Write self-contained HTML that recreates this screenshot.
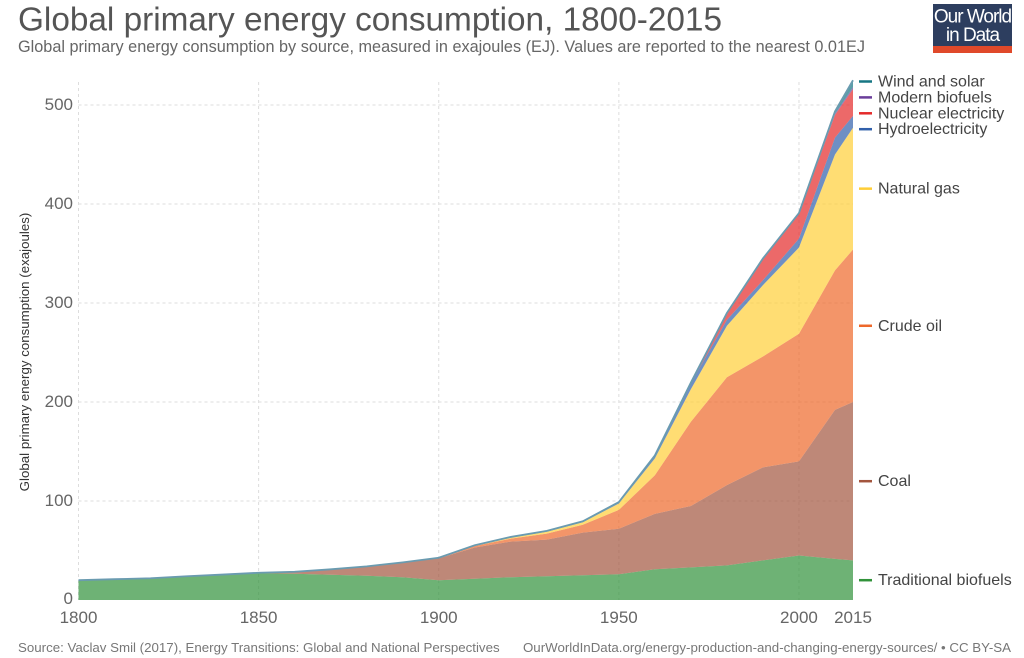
<!DOCTYPE html>
<html lang="en">
<head>
<meta charset="utf-8">
<title>Global primary energy consumption, 1800-2015</title>
<style>
  html,body{margin:0;padding:0;background:#fff;}
  body{width:1024px;height:658px;overflow:hidden;}
  svg{display:block;font-family:"Liberation Sans",sans-serif;}
</style>
</head>
<body>
<svg id="chart" width="1024" height="658" viewBox="0 0 1024 658" xmlns="http://www.w3.org/2000/svg">
  <text x="18" y="30.5" font-size="33.35" fill="#555">Global primary energy consumption, 1800-2015</text>
  <text x="18" y="52" font-size="16.25" fill="#666">Global primary energy consumption by source, measured in exajoules (EJ). Values are reported to the nearest 0.01EJ</text>
  <g>
    <rect x="933" y="4" width="79" height="42" fill="#2d3e5f"/>
    <rect x="933" y="46" width="79" height="7" fill="#e0492a"/>
    <text x="972.5" y="22.5" font-size="19" letter-spacing="-1" text-anchor="middle" fill="#fff">Our World</text>
    <text x="972.5" y="41" font-size="19" letter-spacing="-1" text-anchor="middle" fill="#fff">in Data</text>
  </g>
  <text transform="translate(29,352) rotate(-90)" font-size="13.3" text-anchor="middle" fill="#333">Global primary energy consumption (exajoules)</text>
  <g id="grid"></g>
  <g id="areas"></g>
  <g id="ticks"></g>
  <g id="legend"></g>
  <text x="18" y="652" font-size="13.3" fill="#777">Source: Vaclav Smil (2017), Energy Transitions: Global and National Perspectives</text>
  <text x="1011" y="652" font-size="13.3" text-anchor="end" fill="#777">OurWorldInData.org/energy-production-and-changing-energy-sources/ • CC BY-SA</text>
</svg>
<script>
const years = [1800,1810,1820,1830,1840,1850,1860,1870,1880,1890,1900,1910,1920,1930,1940,1950,1960,1970,1980,1990,2000,2010,2015];
const traditionalBiofuels = [20,21,22,24,25.5,27,26.5,25.5,24.5,23,20,21.5,23,24,25,26,31,33,35,40,45,41.5,40];
const coal = [0,0,0,0,0.2,0.5,2,5.5,9.5,15,22,31.5,36,37,43,46,56,62,81,94,95,150.5,160];
const crudeOil = [0,0,0,0,0,0,0,0,0,0,0.5,1.5,3,6,8,19,39,85,109,112,129,141,154];
const naturalGas = [0,0,0,0,0,0,0,0,0,0,0.2,0.5,1,2,2.5,6.5,17,33,52,72,87,117,123];
const hydroelectricity = [0,0,0,0,0,0,0,0,0,0,0,0.3,0.7,0.8,1,1.5,3,6,6,5,9,17,12];
const nuclearElectricity = [0,0,0,0,0,0,0,0,0,0,0,0,0,0,0,0,0,0.7,7,22,25,23,27];
const modernBiofuels = [0,0,0,0,0,0,0,0,0,0,0,0,0,0,0,0,0,0,0,0,0.3,1,2];
const windAndSolar = [0,0,0,0,0,0,0,0,0,0,0,0,0,0,0,0,0,0,0,0,0.5,2.5,7];
const seriesNames = ["Traditional biofuels","Coal","Crude oil","Natural gas","Hydroelectricity","Nuclear electricity","Modern biofuels","Wind and solar"];
const seriesValues = [traditionalBiofuels,coal,crudeOil,naturalGas,hydroelectricity,nuclearElectricity,modernBiofuels,windAndSolar];
const seriesColors = ["#31923a","#a3553e","#ee682a","#ffce37","#3160ab","#e42a2a","#6a3d9a","#167683"];
const xTickLabels = [1800,1850,1900,1950,2000,2015];
const xGridLabels = [1800,1850,1900,1950,2000];
const yTickLabels = [0,100,200,300,400,500];

const SVG_NS = "http://www.w3.org/2000/svg";
const plot = {left:78.5, right:853, top:82, bottom:600};
function x(year){ return plot.left + (year - 1800) * (plot.right - plot.left) / (2015 - 1800); }
function y(value){ return plot.bottom - value * 0.99; }
function make(tag, parent, attrs){
  const el = document.createElementNS(SVG_NS, tag);
  for (const k in attrs) el.setAttribute(k, attrs[k]);
  parent.appendChild(el);
  return el;
}

const grid = document.getElementById("grid");
yTickLabels.filter(v => v > 0).forEach(v => {
  const line = make("line", grid, {x1:plot.left, x2:plot.right, y1:y(v), y2:y(v), stroke:"#ddd", "stroke-width":1, "stroke-dasharray":"3,3"});
  
  
});
xGridLabels.forEach(v => {
  const line = make("line", grid, {x1:x(v), x2:x(v), y1:plot.top, y2:plot.bottom, stroke:"#ddd", "stroke-width":1, "stroke-dasharray":"3,3"});
  
  
});

const areas = document.getElementById("areas");
const base = years.map(() => 0);
const bands = [];
let topEdge = [];
seriesValues.forEach((vals, s) => {
  const lower = base.slice();
  vals.forEach((v, i) => { base[i] += v; });
  const upper = base.slice();
  bands.push({lower, upper});
  const top = years.map((yr, i) => x(yr).toFixed(2) + "," + y(upper[i]).toFixed(2));
  const bottom = years.map((yr, i) => x(yr).toFixed(2) + "," + y(lower[i]).toFixed(2)).reverse();
  const area = make("polygon", areas, {points: top.concat(bottom).join(" "), fill: seriesColors[s], "fill-opacity": 0.7});
  
  
  topEdge = top;
});
const edge = make("polyline", areas, {points: topEdge.join(" "), fill: "none", stroke: "#6a9bb0", "stroke-width": 1.8});



const ticks = document.getElementById("ticks");
yTickLabels.forEach(v => {
  const t = make("text", ticks, {x:73, y:y(v) + (v === 0 ? 4 : 5), "font-size":17, "text-anchor":"end", fill:"#666"});
  t.textContent = v;
  
  
});
xTickLabels.forEach(v => {
  const t = make("text", ticks, {x:x(v), y:623, "font-size":17, "text-anchor":"middle", fill:"#666"});
  t.textContent = v;
  
  
});

const legend = document.getElementById("legend");
const last = years.length - 1;
const entries = seriesNames.map((name, s) => ({
  name, color: seriesColors[s],
  pos: y((bands[s].lower[last] + bands[s].upper[last]) / 2)
})).reverse();
let prev = null;
entries.forEach(e => {
  const ly = prev === null ? Math.min(e.pos, 81.5) : Math.max(e.pos, prev + 15.9);
  prev = ly;
  const dash = make("line", legend, {x1:859, x2:872, y1:ly, y2:ly, stroke:e.color, "stroke-width":2.5});
  
  
  const t = make("text", legend, {x:878, y:ly + 5, "font-size":16, fill:"#444"});
  t.textContent = e.name;
  
  
});
</script>
</body>
</html>
